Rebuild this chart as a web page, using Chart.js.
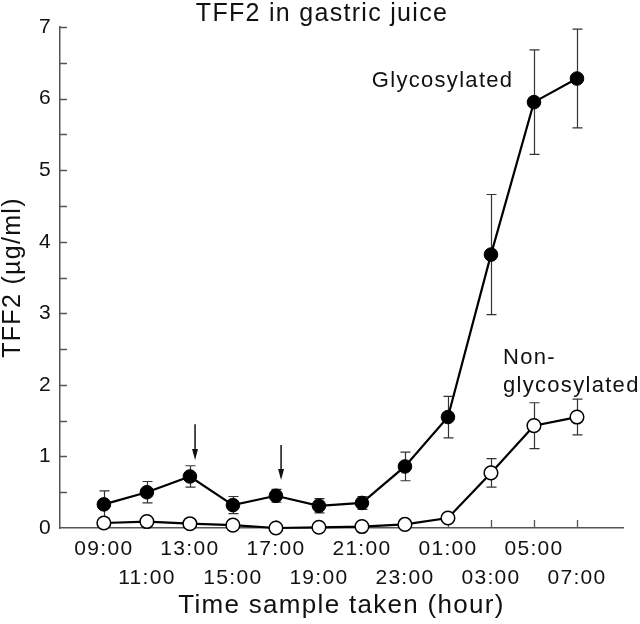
<!DOCTYPE html>
<html><head><meta charset="utf-8">
<script src="https://cdn.jsdelivr.net/npm/chart.js@4"></script>
<style>html,body{margin:0;padding:0;background:#fff}#wrap{width:640px;height:624px}</style>
</head><body><div id="wrap"><canvas id="c" width="640" height="624"></canvas></div>
<script>
// ---- data ----
const timeLabels = ['09:00','11:00','13:00','15:00','17:00','19:00','21:00','23:00','01:00','03:00','05:00','07:00'];
const glycoMean = [0.33, 0.50, 0.72, 0.32, 0.45, 0.31, 0.35, 0.86, 1.55, 3.82, 5.95, 6.28];
const glycoSE   = [0.19, 0.15, 0.15, 0.12, 0.09, 0.10, 0.09, 0.20, 0.29, 0.84, 0.73, 0.69];
const nonGlycoMean = [0.07, 0.09, 0.06, 0.04, 0.00, 0.01, 0.02, 0.05, 0.14, 0.77, 1.43, 1.55];
const nonGlycoSE   = [0, 0, 0, 0, 0, 0, 0, 0, 0, 0.20, 0.32, 0.25];
const yTickValues = [0, 1, 2, 3, 4, 5, 6, 7];
const yMinorTicks = [0.5, 1.5, 2.5, 3.5, 4.5, 5.5, 6.5];
// arrows marking events (x in sample index units, y in µg/ml)
const arrowX = [2.12, 4.12];
const arrowFrom = [1.45, 1.16];
const arrowTo = [0.95, 0.67];
// series labels placed in data coordinates
const seriesNotes = [
  {lines: ['Glycosylated'], x: 6.23, y: 6.25},
  {lines: ['Non-', 'glycosylated'], x: 9.28, y: 2.37}
];

const FONT = '"Liberation Sans", Arial, sans-serif';
const SPACING = '1.3px';
const INK = '#111';
const AXIS = '#555';

const toXY = arr => arr.map((v, i) => ({x: i, y: v}));

const spacingPlugin = {
  id: 'spacing',
  beforeUpdate(chart) { chart.ctx.letterSpacing = SPACING; },
  beforeLayout(chart) { chart.ctx.letterSpacing = SPACING; },
  beforeDraw(chart) { chart.ctx.letterSpacing = SPACING; }
};

const decorPlugin = {
  id: 'decor',
  beforeDatasetsDraw(chart) {
    const {ctx, scales: {x, y}} = chart;
    ctx.save();
    // inward ticks
    ctx.strokeStyle = AXIS;
    ctx.lineWidth = 1.3;
    ctx.beginPath();
    const ax = x.left, ay = y.bottom;
    yTickValues.concat(yMinorTicks).forEach(v => {
      if (v === 0) return;
      const py = Math.round(y.getPixelForValue(v)) + 0.5;
      ctx.moveTo(ax, py); ctx.lineTo(ax + 7, py);
    });
    timeLabels.forEach((_, i) => {
      const px = Math.round(x.getPixelForValue(i)) + 0.5;
      ctx.moveTo(px, ay); ctx.lineTo(px, ay - 8);
    });
    ctx.stroke();
    // error bars
    ctx.strokeStyle = '#333';
    ctx.lineWidth = 1.2;
    const bars = (mean, se) => mean.forEach((m, i) => {
      if (!se[i]) return;
      const px = Math.round(x.getPixelForValue(i)) + 0.5;
      const t = y.getPixelForValue(m + se[i]);
      const b = y.getPixelForValue(m - se[i]);
      ctx.beginPath();
      ctx.moveTo(px, t); ctx.lineTo(px, b);
      ctx.moveTo(px - 5, t); ctx.lineTo(px + 5, t);
      ctx.moveTo(px - 5, b); ctx.lineTo(px + 5, b);
      ctx.stroke();
    });
    bars(glycoMean, glycoSE);
    bars(nonGlycoMean, nonGlycoSE);
    ctx.restore();
  },
  afterDatasetsDraw(chart) {
    const {ctx, scales: {x, y}} = chart;
    ctx.save();
    // arrows
    ctx.strokeStyle = INK; ctx.fillStyle = INK; ctx.lineWidth = 1.5;
    arrowX.forEach((xv, i) => {
      const px = x.getPixelForValue(xv);
      const y0 = y.getPixelForValue(arrowFrom[i]);
      const y1 = y.getPixelForValue(arrowTo[i]);
      ctx.beginPath(); ctx.moveTo(px, y0); ctx.lineTo(px, y1 - 10); ctx.stroke();
      ctx.beginPath(); ctx.moveTo(px - 3, y1 - 11); ctx.lineTo(px + 3, y1 - 11); ctx.lineTo(px, y1); ctx.closePath(); ctx.fill();
    });
    // series notes
    ctx.letterSpacing = SPACING;
    ctx.font = '22px ' + FONT;
    ctx.textAlign = 'left'; ctx.textBaseline = 'middle';
    seriesNotes.forEach(n => {
      const px = x.getPixelForValue(n.x);
      const py = y.getPixelForValue(n.y);
      n.lines.forEach((t, k) => ctx.fillText(t, px, py + k * 28));
    });
    ctx.restore();
  }
};

new Chart(document.getElementById('c'), {
  type: 'line',
  data: {
    datasets: [
      {
        label: 'Glycosylated', data: toXY(glycoMean),
        borderColor: '#000', borderWidth: 2.2, backgroundColor: '#000',
        pointRadius: 6.8, pointBackgroundColor: '#000', pointBorderColor: '#000', pointBorderWidth: 1,
        tension: 0, clip: false
      },
      {
        label: 'Non-glycosylated', data: toXY(nonGlycoMean),
        borderColor: '#000', borderWidth: 2.2, backgroundColor: '#fff',
        pointRadius: 6.8, pointBackgroundColor: '#fff', pointBorderColor: '#000', pointBorderWidth: 1.5,
        tension: 0, clip: false
      }
    ]
  },
  options: {
    responsive: false, animation: false, devicePixelRatio: 1,
    layout: {padding: {left: 21, right: 17, top: 0, bottom: 0}},
    plugins: {
      legend: {display: false}, tooltip: {enabled: false},
      title: {display: true, text: 'TFF2 in gastric juice', color: INK,
        font: {family: FONT, size: 25, weight: 'normal', lineHeight: 1}, padding: {top: 2, bottom: 0}}
    },
    scales: {
      x: {
        type: 'linear', min: -1.02, max: 12.07,
        afterBuildTicks: s => { s.ticks = timeLabels.map((_, i) => ({value: i})); },
        afterFit: s => { s.height = 96; },
        grid: {display: false, drawTicks: false},
        border: {display: true, color: AXIS, width: 1.5},
        ticks: {
          autoSkip: false, maxRotation: 0, padding: 6.5, color: INK,
          font: {family: FONT, size: 21, lineHeight: 1.38},
          callback: v => { const i = Math.round(v); return i % 2 ? ['', timeLabels[i]] : timeLabels[i]; }
        },
        title: {display: true, text: 'Time sample taken (hour)', color: INK,
          font: {family: FONT, size: 26, lineHeight: 1}, padding: {top: 0, bottom: 5}}
      },
      y: {
        min: 0, max: 7,
        afterBuildTicks: s => { s.ticks = yTickValues.map(v => ({value: v})); },
        afterFit: s => { s.width = 39; },
        grid: {display: false, drawTicks: false},
        border: {display: true, color: AXIS, width: 1.5},
        ticks: {padding: 8, color: INK, font: {family: FONT, size: 21}},
        title: {display: true, text: 'TFF2 (µg/ml)', color: INK,
          font: {family: FONT, size: 25, lineHeight: 1}, padding: {top: -20.5, bottom: 0}}
      }
    }
  },
  plugins: [spacingPlugin, decorPlugin]
});
</script>
</body></html>
